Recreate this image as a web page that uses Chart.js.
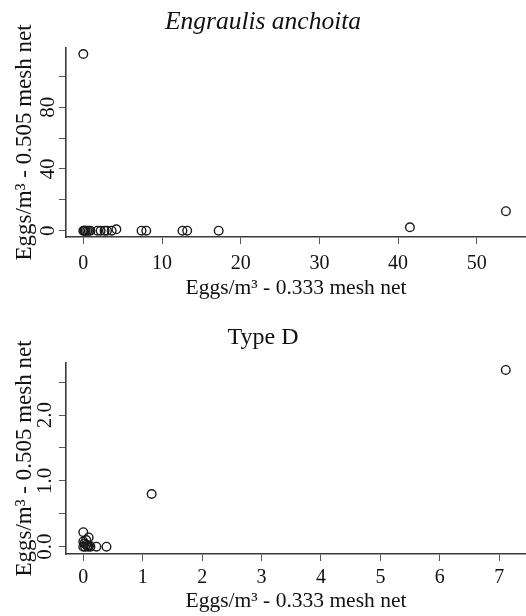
<!DOCTYPE html>
<html>
<head>
<meta charset="utf-8">
<title>Eggs per m3 - mesh net comparison</title>
<script src="https://cdn.jsdelivr.net/npm/chart.js@4.4.1/dist/chart.umd.min.js"></script>
<style>
  body { margin: 0; background: #fff; }
  canvas { display: block; }
</style>
</head>
<body>
<canvas id="anchoitaChart" width="526" height="308"></canvas>
<canvas id="typeDChart" width="526" height="308"></canvas>
<script>
// Engraulis anchoita: eggs/m3 in 0.333 net (x) vs 0.505 net (y)
var anchoitaX = [0, 0.1, 0.2, 0.3, 0.5, 0.7, 0.9, 1.8, 2.2, 2.7, 3.0, 3.6, 4.2, 7.4, 8.0, 12.6, 13.2, 17.2, 41.5, 53.7, 0];
var anchoitaY = [0, 0, 0, 0, 0, 0, 0, 0, 0, 0, 0, 0, 0.9, 0, 0, 0, 0, 0, 2.2, 12.6, 114.4];
var anchoitaXTicks = [0, 10, 20, 30, 40, 50];
var anchoitaYTicks = [0, 20, 40, 60, 80, 100];
var anchoitaYLabels = ['0', '', '40', '', '80', ''];

// Type D
var typeDX = [0, 0.09, 0, 0.02, 0.05, 0, 0.03, 0.07, 0.1, 0.12, 0.05, 0.08, 0.22, 0.39, 1.15, 7.11];
var typeDY = [0.22, 0.14, 0.08, 0.05, 0.03, 0, 0, 0.01, 0.02, 0, 0.1, 0, 0, 0, 0.8, 2.685];
var typeDXTicks = [0, 1, 2, 3, 4, 5, 6, 7];
var typeDYTicks = [0, 0.5, 1, 1.5, 2, 2.5];
var typeDYLabels = ['0.0', '', '1.0', '', '2.0', ''];

var serif = "'Liberation Serif', 'Times New Roman', serif";
var ink = '#111';
var axisGray = '#3a3a3a';

function toPoints(xs, ys) {
    return xs.map(function(x, i){ return {x: x, y: ys[i]}; });
}

function makeChart(canvasId, opt) {
    var ctx = document.getElementById(canvasId).getContext('2d');
    return new Chart(ctx, {
        type: 'scatter',
        data: {
            datasets: [{
                data: toPoints(opt.xs, opt.ys),
                pointStyle: 'circle',
                pointRadius: 4.3,
                pointBorderWidth: 1.4,
                pointBorderColor: '#1a1a1a',
                pointBackgroundColor: 'rgba(0,0,0,0)'
            }]
        },
        options: {
            responsive: false,
            animation: false,
            layout: { autoPadding: false, padding: { left: 0, right: 0, top: opt.titleTop, bottom: 0 } },
            plugins: {
                legend: { display: false },
                tooltip: { enabled: false },
                title: {
                    display: true,
                    text: opt.title,
                    color: ink,
                    font: { family: serif, size: opt.titleSize, style: opt.titleStyle, weight: 'normal' },
                    padding: { top: 0, bottom: opt.titleBottom }
                }
            },
            scales: {
                x: {
                    type: 'linear',
                    min: opt.xMin,
                    max: opt.xMax,
                    afterFit: function(scale){ scale.height = opt.xAxisHeight; },
                    afterBuildTicks: function(scale){
                        scale.ticks = opt.xTicks.map(function(v){ return {value: v}; });
                    },
                    grid: { display: true, drawOnChartArea: false, drawTicks: true, tickLength: 7, tickColor: '#555', lineWidth: 1 },
                    border: { display: true, color: axisGray, width: 1.6 },
                    ticks: {
                        color: ink,
                        padding: opt.xTickPad,
                        maxRotation: 0,
                        autoSkip: false,
                        font: { family: serif, size: 20 },
                        callback: function(v){ return String(v); }
                    },
                    title: {
                        display: true,
                        text: 'Eggs/m\u00b3 - 0.333 mesh net',
                        color: ink,
                        font: { family: serif, size: 21.5 },
                        padding: { top: 0, bottom: opt.xTitlePad }
                    }
                },
                y: {
                    type: 'linear',
                    min: opt.yMin,
                    max: opt.yMax,
                    afterFit: function(scale){ scale.width = 66; },
                    afterBuildTicks: function(scale){
                        scale.ticks = opt.yTicks.map(function(v){ return {value: v}; });
                    },
                    grid: { display: true, drawOnChartArea: false, drawTicks: true, tickLength: 7, tickColor: '#555', lineWidth: 1 },
                    border: { display: true, color: axisGray, width: 1.6 },
                    ticks: {
                        color: ink,
                        padding: 0,
                        minRotation: 90,
                        maxRotation: 90,
                        crossAlign: 'center',
                        autoSkip: false,
                        font: { family: serif, size: 21 },
                        callback: function(v, i){ return opt.yLabels[i]; }
                    },
                    title: {
                        display: true,
                        text: 'Eggs/m\u00b3 - 0.505 mesh net',
                        color: ink,
                        font: { family: serif, size: 23 },
                        padding: { top: 11, bottom: 0 }
                    }
                }
            }
        }
    });
}

makeChart('anchoitaChart', {
    xs: anchoitaX, ys: anchoitaY,
    title: 'Engraulis anchoita', titleStyle: 'italic', titleSize: 25.5,
    titleTop: 7, titleBottom: 10.4,
    xMin: -2.2, xMax: 56.25, yMin: -4.1, yMax: 118.3,
    xTicks: anchoitaXTicks, yTicks: anchoitaYTicks, yLabels: anchoitaYLabels,
    xAxisHeight: 71, xTickPad: 8, xTitlePad: 7
});

makeChart('typeDChart', {
    xs: typeDX, ys: typeDY,
    title: 'Type D', titleStyle: 'normal', titleSize: 24,
    titleTop: 15, titleBottom: 11.2,
    xMin: -0.291, xMax: 7.45, yMin: -0.111, yMax: 2.79,
    xTicks: typeDXTicks, yTicks: typeDYTicks, yLabels: typeDYLabels,
    xAxisHeight: 62, xTickPad: 5, xTitlePad: 1.5
});
</script>
</body>
</html>
